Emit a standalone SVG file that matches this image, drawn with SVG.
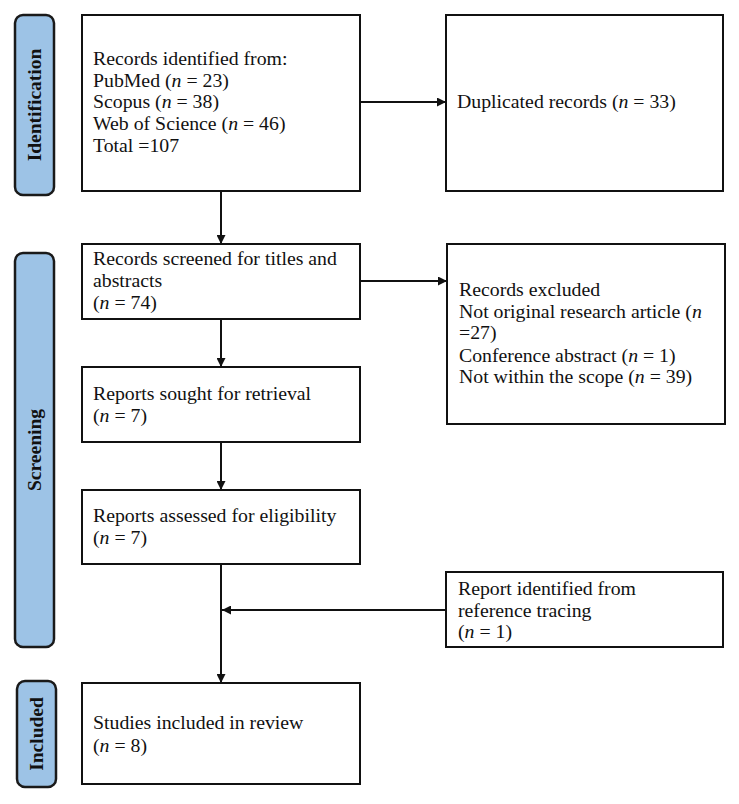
<svg xmlns="http://www.w3.org/2000/svg" width="739" height="804" viewBox="0 0 739 804">
<defs>
<marker id="ah" viewBox="0 0 10 10" refX="10" refY="5" markerWidth="9" markerHeight="9" markerUnits="userSpaceOnUse" orient="auto"><path d="M0,0 L10,5 L0,10 Z" fill="#111"/></marker>
<style>
.box{fill:#fff;stroke:#111;stroke-width:2}
.bar{fill:#9dc3e6;stroke:#1a1a1a;stroke-width:2.5}
.t{font-family:"Liberation Serif","Times New Roman",serif;font-size:19.8px;fill:#111}
.v{font-family:"Liberation Serif","Times New Roman",serif;font-size:19.5px;font-weight:bold;fill:#111;text-anchor:middle}
.c{fill:none;stroke:#111;stroke-width:2}
</style>
</defs>
<rect width="739" height="804" fill="#fff"/>
<g id="bar-identification"><rect class="bar" x="15" y="15" width="39" height="180" rx="8"/><text class="v" transform="translate(41,105) rotate(-90)">Identification</text></g>
<g id="bar-screening"><rect class="bar" x="15" y="253" width="39" height="394" rx="8"/><text class="v" transform="translate(41,450) rotate(-90)">Screening</text></g>
<g id="bar-included"><rect class="bar" x="17" y="681" width="39" height="106" rx="8"/><text class="v" transform="translate(43,734) rotate(-90)">Included</text></g>

<g id="n1"><rect class="box" x="82" y="15" width="278" height="176"/>
<text class="t" x="93" y="65">Records identified from:</text>
<text class="t" x="93" y="87">PubMed (<tspan font-style="italic">n</tspan> = 23)</text>
<text class="t" x="93" y="108">Scopus (<tspan font-style="italic">n</tspan> = 38)</text>
<text class="t" x="93" y="130">Web of Science (<tspan font-style="italic">n</tspan> = 46)</text>
<text class="t" x="93" y="152">Total =107</text></g>

<g id="n2"><rect class="box" x="446" y="15" width="277" height="176"/>
<text class="t" x="457" y="108">Duplicated records (<tspan font-style="italic">n</tspan> = 33)</text></g>

<g id="n3"><rect class="box" x="82" y="244" width="278" height="75"/>
<text class="t" x="93" y="265">Records screened for titles and</text>
<text class="t" x="93" y="287">abstracts</text>
<text class="t" x="93" y="309">(<tspan font-style="italic">n</tspan> = 74)</text></g>

<g id="n4"><rect class="box" x="447" y="244" width="278" height="180"/>
<text class="t" x="459" y="296">Records excluded</text>
<text class="t" x="459" y="318">Not original research article (<tspan font-style="italic">n</tspan></text>
<text class="t" x="459" y="339">=27)</text>
<text class="t" x="459" y="362">Conference abstract (<tspan font-style="italic">n</tspan> = 1)</text>
<text class="t" x="459" y="383">Not within the scope (<tspan font-style="italic">n</tspan> = 39)</text></g>

<g id="n5"><rect class="box" x="82" y="367" width="278" height="75"/>
<text class="t" x="93" y="400">Reports sought for retrieval</text>
<text class="t" x="93" y="422">(<tspan font-style="italic">n</tspan> = 7)</text></g>

<g id="n6"><rect class="box" x="82" y="490" width="278" height="74"/>
<text class="t" x="93" y="522">Reports assessed for eligibility</text>
<text class="t" x="93" y="544">(<tspan font-style="italic">n</tspan> = 7)</text></g>

<g id="n7"><rect class="box" x="446" y="572" width="277" height="75"/>
<text class="t" x="458" y="595">Report identified from</text>
<text class="t" x="458" y="617">reference tracing</text>
<text class="t" x="458" y="638">(<tspan font-style="italic">n</tspan> = 1)</text></g>

<g id="n8"><rect class="box" x="82" y="683" width="278" height="101"/>
<text class="t" x="93" y="729">Studies included in review</text>
<text class="t" x="93" y="752">(<tspan font-style="italic">n</tspan> = 8)</text></g>

<g id="connectors">
<line class="c" x1="360" y1="102" x2="446" y2="102" marker-end="url(#ah)"/>
<line class="c" x1="221" y1="191" x2="221" y2="244" marker-end="url(#ah)"/>
<line class="c" x1="360" y1="281" x2="447" y2="281" marker-end="url(#ah)"/>
<line class="c" x1="221" y1="319" x2="221" y2="367" marker-end="url(#ah)"/>
<line class="c" x1="221" y1="442" x2="221" y2="490" marker-end="url(#ah)"/>
<line class="c" x1="221" y1="564" x2="221" y2="683" marker-end="url(#ah)"/>
<line class="c" x1="446" y1="610" x2="222" y2="610" marker-end="url(#ah)"/>
</g>
</svg>
